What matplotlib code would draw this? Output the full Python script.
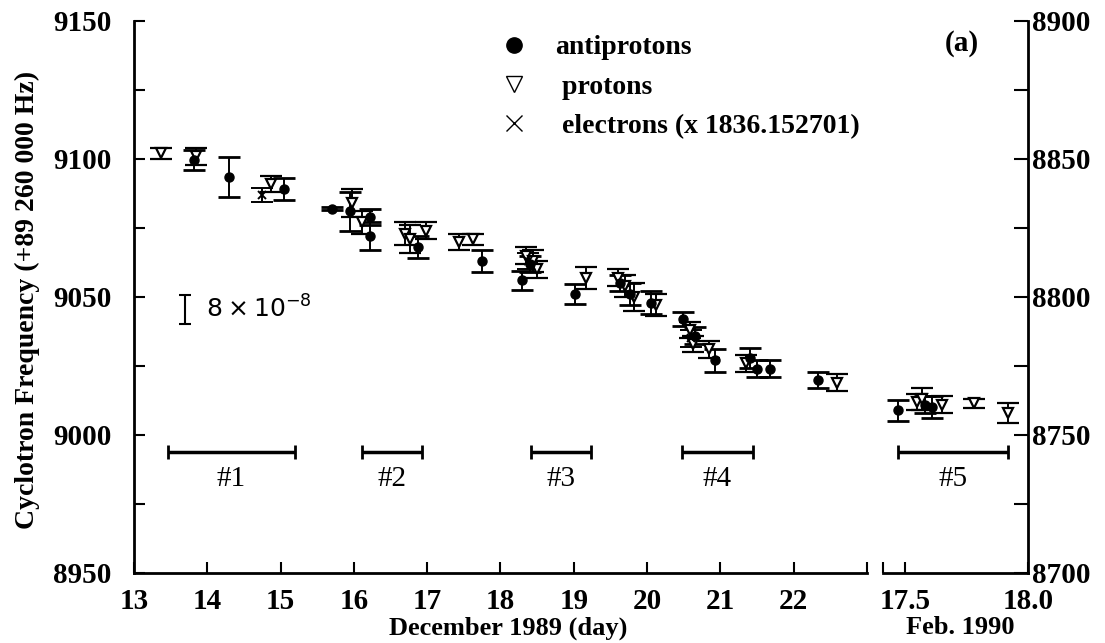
import matplotlib
matplotlib.use('Agg')
import matplotlib.pyplot as plt
from matplotlib.lines import Line2D
from matplotlib.ticker import FixedLocator, NullFormatter

plt.rcParams['font.family'] = ['Liberation Serif', 'DejaVu Serif']
plt.rcParams['font.weight'] = 'bold'
plt.rcParams['mathtext.fontset'] = 'dejavusans'

# December 1989 (day), frequency in Hz above 89 260 000
pbar_day = [13.82, 14.30, 15.04, 15.70, 15.94, 16.22, 16.22, 16.88, 17.75, 18.29, 18.40,
            19.01, 19.63, 19.76, 20.06, 20.49, 20.65, 20.92, 21.40, 21.50, 21.67, 22.33]
pbar_freq = [9099.5, 9093.5, 9089, 9082, 9081, 9079, 9072, 9068, 9063, 9056, 9062,
             9051, 9055, 9051, 9048, 9042, 9036, 9027, 9028, 9024, 9024, 9020]
pbar_err = [3.6, 7.4, 4, 0.5, 7, 3, 5, 4, 4, 3.5, 3,
            3.6, 3, 4, 4, 2.5, 3, 4, 3.6, 3, 3, 3]

p_day = [13.37, 13.85, 14.87, 15.97, 16.11, 16.70, 16.76, 16.99, 17.44, 17.62, 18.35, 18.45,
         18.50, 19.17, 19.60, 19.70, 19.82, 20.12, 20.58, 20.62, 20.85, 21.35, 22.59]
p_freq = [9102, 9101, 9091, 9084, 9077, 9073, 9071, 9074, 9070, 9071, 9065, 9063,
          9060, 9057, 9057, 9054, 9050, 9047, 9038, 9033, 9031, 9026, 9019]
p_err = [2, 3, 3, 5, 4, 4, 5, 3, 3, 2, 3, 4,
         3, 4, 3, 4, 5, 4, 3, 3, 3, 3, 3]

e_day = [14.75, 18.38, 20.60]
e_freq = [9087, 9063, 9035]
e_err = [2.5, 3, 3]

# February 1990
pbar_feb_day = [17.47, 17.58, 17.61]
pbar_feb_freq = [9009, 9011, 9010]
pbar_feb_err = [3.8, 3, 4]

p_feb_day = [17.55, 17.57, 17.65, 17.78, 17.92]
p_feb_freq = [9012, 9013, 9011, 9011.5, 9008]
p_feb_err = [3, 4, 3, 1.6, 3.6]

# measurement runs
run_names = ['#1', '#2', '#3', '#4']
run_start = [13.46, 16.11, 18.42, 20.47]
run_end = [15.19, 16.93, 19.24, 21.44]
run5_start, run5_end = 17.47, 17.92

left_ticks = [8950, 9000, 9050, 9100, 9150]
right_ticks = [8700, 8750, 8800, 8850, 8900]

W, H = 1105, 643
fig = plt.figure(figsize=(W / 100, H / 100), dpi=100)
ax = fig.add_axes([134 / W, 70 / H, 733 / W, 552 / H])
ax2 = fig.add_axes([883 / W, 70 / H, 145 / W, 552 / H])

eb = dict(ls='none', color='black', ecolor='black', elinewidth=1.4,
          capsize=8, capthick=2.0)


def draw(a, day, freq, err, marker, **kw):
    a.errorbar(day, freq, yerr=err, marker=marker, **eb, **kw)


draw(ax, p_day, p_freq, p_err, 'v', ms=7, mfc='white', mec='black', mew=1.6)
draw(ax, pbar_day, pbar_freq, pbar_err, 'o', ms=6.5, mfc='black', mec='black')
draw(ax, e_day, e_freq, e_err, 'x', ms=6, mew=1.4)
draw(ax2, p_feb_day, p_feb_freq, p_feb_err, 'v', ms=7, mfc='white', mec='black', mew=1.6)
draw(ax2, pbar_feb_day, pbar_feb_freq, pbar_feb_err, 'o', ms=6.5, mfc='black', mec='black')

# run bars
for name, s, e in zip(run_names, run_start, run_end):
    c = (s + e) / 2
    ax.errorbar([c], [8993.8], xerr=[(e - s) / 2], color='black', lw=2.5,
                capsize=5, capthick=2)
    ax.text(c, 8984, name, ha='center', va='center', fontsize=21, fontweight='normal')
c5 = (run5_start + run5_end) / 2
ax2.errorbar([c5], [8993.8], xerr=[(run5_end - run5_start) / 2], color='black',
             lw=2.5, capsize=5, capthick=2)
ax2.text(c5, 8984, '#5', ha='center', va='center', fontsize=21, fontweight='normal')

# scale bar
ax.errorbar([13.70], [9045.5], yerr=[5.2], color='black', lw=1.5, capsize=4, capthick=1.5)
ax.text(13.98, 9045.5, r'$\mathregular{8\times10^{-8}}$', ha='left', va='center',
        fontsize=18, family='DejaVu Sans', fontweight='normal')

# axes styling
for a in (ax, ax2):
    a.set_ylim(8950, 9150)
    a.spines['top'].set_visible(False)
    for sp in a.spines.values():
        sp.set_linewidth(2)
ax.spines['right'].set_visible(False)
ax2.spines['left'].set_visible(False)
ax2.spines['right'].set_visible(False)

ax.set_xlim(13, 23)
ax.set_xticks(range(13, 24))
ax.set_xticklabels([str(d) for d in range(13, 23)] + [''])
ax.yaxis.set_major_locator(FixedLocator(left_ticks))
ax.yaxis.set_minor_locator(FixedLocator([v + 25 for v in left_ticks[:-1]]))
ax.tick_params(axis='both', which='both', direction='in', labelsize=21, width=1.5)
ax.tick_params(axis='y', which='major', length=8, pad=16)
ax.tick_params(axis='y', which='minor', length=8)
ax.tick_params(axis='x', length=8, pad=11)

ax2.set_xlim(17.41, 18.0)
ax2.set_xticks([17.41, 17.5, 18.0])
ax2.set_xticklabels(['', '17.5', '18.0'])
ax2.tick_params(axis='x', direction='in', length=8, width=1.5, labelsize=21, pad=11)
ax2.tick_params(axis='y', left=False, labelleft=False)

sec = ax2.secondary_yaxis('right', functions=(lambda v: v - 250, lambda v: v + 250))
sec.yaxis.set_major_locator(FixedLocator(right_ticks))
sec.yaxis.set_minor_locator(FixedLocator([v + 25 for v in right_ticks[:-1]]))
sec.yaxis.set_minor_formatter(NullFormatter())
sec.spines['right'].set_linewidth(2)
sec.tick_params(axis='y', which='both', direction='in', length=10, width=1.5,
                labelsize=21, pad=3)

# legend
handles = [
    Line2D([], [], ls='none', marker='o', ms=11, mfc='black', mec='black'),
    Line2D([], [], ls='none', marker='v', ms=12, mfc='white', mec='black', mew=1.0),
    Line2D([], [], ls='none', marker='x', ms=12, mec='black', mew=1.0),
]
labels = ['antiprotons', ' protons', ' electrons (x 1836.152701)']
ax.legend(handles, labels, loc='upper left', bbox_to_anchor=(0.5, 0.975),
          frameon=False, fontsize=20, handlelength=1.0, handletextpad=0.95,
          borderpad=0, borderaxespad=0, labelspacing=0.5)

ax2.text(0.545, 0.96, '(a)', transform=ax2.transAxes, ha='center', va='center', fontsize=21)

fig.text(27 / W, 1 - 300 / H, 'Cyclotron Frequency (+89 260 000 Hz)', rotation=90,
         ha='center', va='center', fontsize=20)
fig.text(508 / W, 1 - 628 / H, 'December 1989 (day)', ha='center', va='center', fontsize=19)
fig.text(960 / W, 1 - 628 / H, 'Feb. 1990', ha='center', va='center', fontsize=19)

fig.savefig('out.png', dpi=100)
